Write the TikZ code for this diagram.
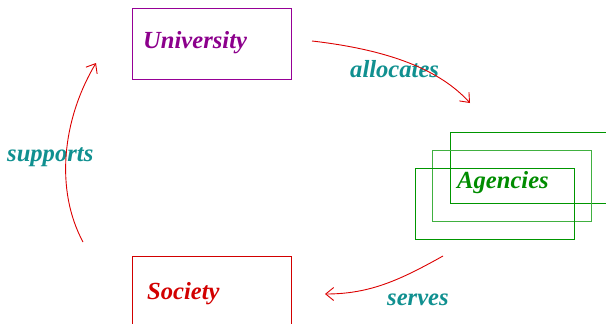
\documentclass[tikz,border=0pt]{standalone}
\usepackage{fontspec}
\setmainfont{Liberation Serif}
\usetikzlibrary{arrows.meta}
\definecolor{univ}{RGB}{150,0,150}
\definecolor{univtxt}{RGB}{140,0,140}
\definecolor{agen}{RGB}{0,150,0}
\definecolor{agentxt}{RGB}{0,140,0}
\definecolor{soc}{RGB}{210,0,0}
\definecolor{lab}{RGB}{16,144,144}
\definecolor{arr}{RGB}{220,0,0}
\tikzset{
  x=1pt,y=1pt,
  txt/.style={font=\fontsize{24.6}{28}\selectfont\bfseries\itshape,inner sep=0pt,anchor=base west},
  box/.style={draw,line width=0.9pt,minimum width=159pt,minimum height=71pt,inner sep=0pt,anchor=north west},
  conn/.style={draw=arr,line width=0.9pt,-{Straight Barb[length=8pt,width=13pt,line width=0.9pt]}}
}
\begin{document}
\begin{tikzpicture}
\useasboundingbox (0,0) rectangle (606,-324);
\clip (0,0) rectangle (606,-324);
% boxes
\node[box,draw=univ] (ubox) at (132,-8) {};
\node[box,draw=soc] (sbox) at (132,-256) {};
\node[box,draw=agen] (abox1) at (450,-132) {};
\node[box,draw=agen!75] (abox2) at (432,-150) {};
\node[box,draw=agen] (abox3) at (415,-168) {};
% texts
\node[txt,text=univtxt] (univ) at (143,-48) {University};
\node[txt,text=agentxt] (agen) at (457,-188) {Agencies};
\node[txt,text=soc] (soc) at (147,-299) {Society};
\node[txt,text=lab] (alloc) at (350,-77) {allocates};
\node[txt,text=lab] (supp) at (7,-161) {supports};
\node[txt,text=lab] (serv) at (387,-305) {serves};
% connector ends
\coordinate (u1) at (312,-41);
\coordinate (a1) at (470,-103);
\coordinate (a2) at (443,-256);
\coordinate (s1) at (325,-294);
\coordinate (s2) at (83,-242);
\coordinate (u2) at (96,-63);
\draw[conn] (u1) .. controls (390,-50) and (440,-70) .. (a1);
\draw[conn] (a2) .. controls (400,-280) and (370,-294) .. (s1);
\draw[conn] (s2) .. controls (55,-190) and (62,-120) .. (u2);
\end{tikzpicture}
\end{document}
